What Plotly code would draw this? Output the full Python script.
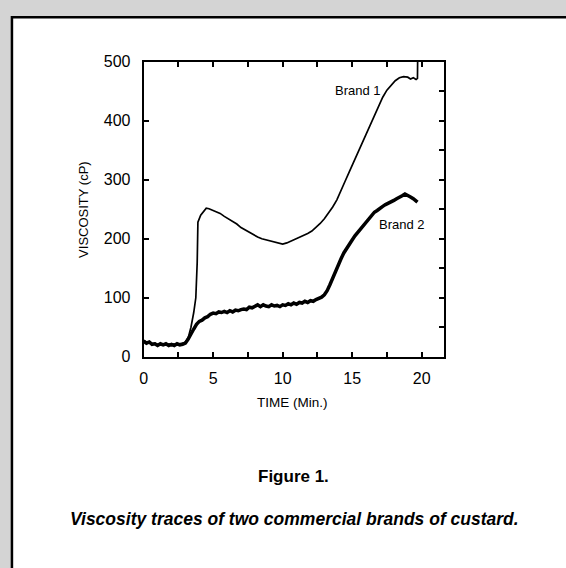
import plotly.graph_objects as go

W, H = 566, 568

# Brand 1 viscosity trace (time in min, viscosity in cP)
brand1_t = [0.0, 0.2, 0.4, 0.6, 0.8, 1.0, 1.3, 1.6, 2.0, 2.4, 2.8, 3.0, 3.2, 3.4, 3.6, 3.75,
            3.85, 3.9, 4.1, 4.3, 4.5, 4.7, 4.9, 5.2, 5.5, 5.8, 6.1, 6.4, 6.7, 7.0, 7.3, 7.6,
            7.9, 8.2, 8.5, 8.8, 9.1, 9.4, 9.7, 10.0, 10.3, 10.6, 10.9, 11.2, 11.5, 11.8,
            12.1, 12.4, 12.7, 13.0, 13.3, 13.6, 13.9, 14.2, 14.5, 14.8, 15.1, 15.4, 15.7,
            16.0, 16.3, 16.6, 16.9, 17.2, 17.5, 17.8, 18.1, 18.4, 18.7, 19.0, 19.2, 19.4,
            19.6, 19.7, 19.72]
brand1_v = [28, 25, 24, 22, 23, 21, 22, 21, 22, 21, 23, 25, 32, 50, 75, 100,
            160, 228, 240, 247, 252, 251, 249, 246, 243, 238, 234, 229, 225, 219, 215, 211,
            206, 203, 200, 198, 196, 194, 193, 191, 193, 196, 199, 203, 206, 209,
            213, 219, 226, 234, 243, 254, 266, 281, 298, 314, 330, 346, 362,
            379, 395, 410, 425, 440, 452, 461, 468, 473, 475, 474, 471, 473,
            470, 472, 520]

# Brand 2 viscosity trace
brand2_t = [0.0, 0.2, 0.4, 0.6, 0.8, 1.0, 1.2, 1.4, 1.6, 1.8, 2.0, 2.2, 2.4, 2.6, 2.8, 3.0,
            3.2, 3.4, 3.6, 3.8, 4.0, 4.2, 4.4, 4.6, 4.8, 5.0, 5.2, 5.4, 5.6, 5.8, 6.0, 6.2,
            6.4, 6.6, 6.8, 7.0, 7.2, 7.4, 7.6, 7.8, 8.0, 8.2, 8.4, 8.6, 8.8, 9.0, 9.2, 9.4,
            9.6, 9.8, 10.0, 10.2, 10.4, 10.6, 10.8, 11.0, 11.2, 11.4, 11.6, 11.8, 12.0,
            12.2, 12.4, 12.6, 12.8, 13.0, 13.2, 13.4, 13.6, 13.8, 14.0, 14.2, 14.4, 14.6,
            14.8, 15.0, 15.2, 15.4, 15.6, 15.8, 16.0, 16.2, 16.4, 16.6, 16.8, 17.0, 17.2,
            17.4, 17.6, 17.8, 18.0, 18.2, 18.4, 18.6, 18.8, 19.0, 19.2, 19.4, 19.6, 19.7]
brand2_v = [26, 23, 25, 21, 22, 19, 22, 20, 22, 19, 21, 19, 22, 20, 21, 23,
            30, 40, 47, 55, 60, 62, 66, 68, 72, 74, 73, 76, 75, 77, 75, 78,
            76, 79, 78, 80, 81, 80, 84, 83, 86, 88, 85, 88, 86, 85, 88, 86,
            87, 85, 88, 87, 90, 88, 91, 89, 92, 91, 94, 92, 95,
            94, 97, 99, 101, 105, 112, 122, 134, 146, 156, 166, 176, 184,
            192, 198, 205, 211, 217, 223, 229, 234, 240, 245, 248, 252, 255,
            258, 260, 263, 265, 268, 270, 273, 276, 274, 271, 268, 265, 262]

x_range = [0, 21.6]
y_range = [0, 500]
x_tickvals = [0, 5, 10, 15, 20]
y_tickvals = [0, 100, 200, 300, 400, 500]

FONT = "Liberation Sans, Arial, Helvetica, sans-serif"

fig = go.Figure()
fig.add_trace(go.Scatter(x=brand1_t, y=brand1_v, mode="lines",
                         line=dict(color="black", width=1.7), showlegend=False))
fig.add_trace(go.Scatter(x=brand2_t, y=brand2_v, mode="lines",
                         line=dict(color="black", width=3.5), showlegend=False))
# empty trace so the right-hand tick axis renders
fig.add_trace(go.Scatter(x=[None], y=[None], yaxis="y2", showlegend=False))

xd = [140.7 / W, 443 / W]
yd = [1 - 359.5 / H, 1 - 55.5 / H]

fig.update_layout(
    width=W, height=H, autosize=False,
    margin=dict(l=0, r=0, t=0, b=0),
    paper_bgcolor="#d4d4d4", plot_bgcolor="white",
    xaxis=dict(domain=xd, range=x_range, tickvals=x_tickvals, ticks="inside",
               ticklen=5, tickwidth=1.5, tickcolor="black",
               minor=dict(dtick=2.5, tick0=0, ticks="inside", ticklen=5, tickwidth=1.5,
                          tickcolor="black"),
               mirror="allticks", showline=True, linewidth=2, linecolor="black",
               showgrid=False, zeroline=False,
               tickfont=dict(family=FONT, size=16, color="black"), ticklabelstandoff=6),
    yaxis=dict(domain=yd, range=y_range, tickvals=y_tickvals, ticks="inside",
               ticklen=5, tickwidth=1.5, tickcolor="black",
               mirror=True, showline=True, linewidth=2, linecolor="black",
               showgrid=False, zeroline=False,
               tickfont=dict(family=FONT, size=16, color="black"), ticklabelstandoff=8),
    yaxis2=dict(domain=yd, range=y_range, overlaying="y", side="right", dtick=50, tick0=0,
                ticks="inside", ticklen=5, tickwidth=1.5, tickcolor="black",
                showticklabels=False, showgrid=False, zeroline=False, showline=False),
    shapes=[dict(type="rect", xref="paper", yref="paper", layer="below",
                 x0=8 / W, x1=1.02, y0=-0.02, y1=1 - 9.5 / H,
                 fillcolor="white", line=dict(color="black", width=2.5))],
)

ann = [
    dict(text="Brand 1", x=15.43, y=451, xref="x", yref="y",
         font=dict(family=FONT, size=13, color="black")),
    dict(text="Brand 2", x=18.6, y=224, xref="x", yref="y",
         font=dict(family=FONT, size=13, color="black")),
    dict(text="VISCOSITY (cP)", x=80.7 / W, y=1 - 208 / H, xref="paper", yref="paper",
         textangle=-90, font=dict(family=FONT, size=13, color="black")),
    dict(text="TIME (Min.)", x=291 / W, y=1 - 406.7 / H, xref="paper", yref="paper",
         font=dict(family=FONT, size=13.5, color="black")),
    dict(text="<b>Figure 1.</b>", x=291.5 / W, y=1 - 483 / H, xref="paper", yref="paper",
         font=dict(family=FONT, size=17, color="black")),
    dict(text="<b><i>Viscosity traces of two commercial brands of custard.</i></b>",
         x=293 / W, y=1 - 527 / H, xref="paper", yref="paper",
         font=dict(family=FONT, size=17.5, color="black")),
]
for a in ann:
    a.update(showarrow=False, xanchor="center", yanchor="middle")
fig.update_layout(annotations=ann)

fig.write_html("out.html")
